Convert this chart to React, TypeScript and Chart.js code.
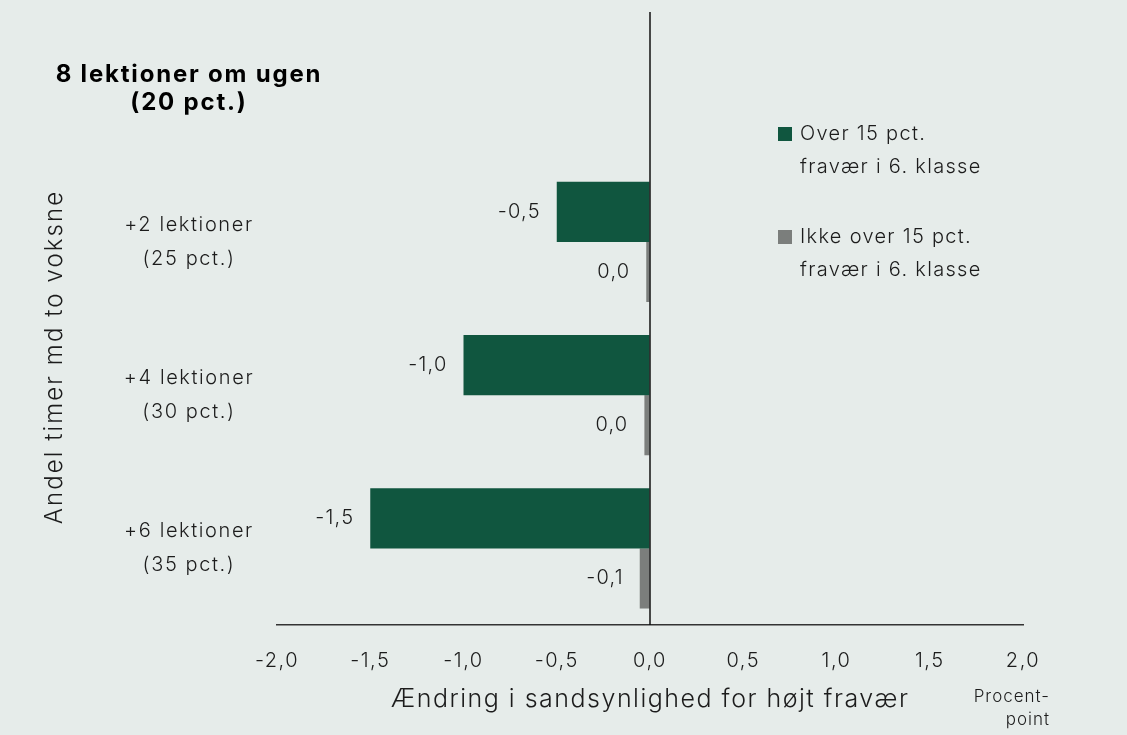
import React, { useEffect, useRef } from "react";
import { Chart, registerables } from "chart.js";

Chart.register(...registerables);

// ---- Data ----
const categories: string[][] = [
  ["8 lektioner om ugen", "(20 pct.)"],
  ["+2 lektioner", "(25 pct.)"],
  ["+4 lektioner", "(30 pct.)"],
  ["+6 lektioner", "(35 pct.)"],
];
const seriesNames: string[][] = [
  ["Over 15 pct.", "fravær i 6. klasse"],
  ["Ikke over 15 pct.", "fravær i 6. klasse"],
];
const over15: (number | null)[] = [null, -0.5, -1.0, -1.5];
const notOver15: (number | null)[] = [null, -0.02, -0.03, -0.055];
const xMin = -2;
const xMax = 2;
const xStep = 0.5;
const xTitle = "Ændring i sandsynlighed for højt fravær";
const yTitle = "Andel timer md to voksne";
const unitLabel: string[] = ["Procent-", "point"];

const colors = ["#10563f", "#7b7e7c"];
const BG = "#e6ecea";
const TEXT = "#1c1c1c";
const FONT = "Inter, Lato, sans-serif";

const fmt = (v: number) => {
  const r = Math.round(v * 10) / 10;
  const s = (r === 0 ? 0 : r).toFixed(1);
  return s.replace(".", ",");
};

const decorPlugin = {
  id: "decor",
  afterDatasetsDraw(chart: any) {
    const { ctx, chartArea } = chart;
    const xs = chart.scales.x;
    const x0 = xs.getPixelForValue(0);
    ctx.save();
    ctx.strokeStyle = "#111";
    ctx.lineWidth = 1.5;
    ctx.beginPath();
    ctx.moveTo(x0, chartArea.top);
    ctx.lineTo(x0, chartArea.bottom);
    ctx.stroke();

    ctx.letterSpacing = "1.2px";
    ctx.font = `300 20px ${FONT}`;
    ctx.fillStyle = TEXT;
    ctx.textAlign = "right";
    ctx.textBaseline = "middle";
    chart.data.datasets.forEach((ds: any, di: number) => {
      const meta = chart.getDatasetMeta(di);
      meta.data.forEach((el: any, i: number) => {
        const v = ds.data[i];
        if (v === null || v === undefined) return;
        const left = Math.min(el.x, el.base);
        ctx.fillText(fmt(v), left - 16, el.y);
      });
    });
    ctx.restore();
  },
  afterDraw(chart: any) {
    const { ctx } = chart;
    const ys = chart.scales.y;
    ctx.save();
    ctx.fillStyle = TEXT;
    ctx.textAlign = "center";
    ctx.textBaseline = "middle";
    categories.forEach((lines, i) => {
      const cy = ys.getPixelForValue(i);
      const bold = i === 0;
      ctx.font = bold ? `bold 24px ${FONT}` : `300 20px ${FONT}`;
      ctx.letterSpacing = bold ? "1.8px" : "1.6px";
      ctx.fillStyle = bold ? "#000" : TEXT;
      const lh = bold ? 28 : 34;
      lines.forEach((t, k) => {
        ctx.fillText(t, 189, cy + (k - (lines.length - 1) / 2) * lh);
      });
    });
    ctx.fillStyle = TEXT;
    ctx.save();
    ctx.translate(55, 357);
    ctx.rotate(-Math.PI / 2);
    ctx.font = `300 24px ${FONT}`;
    ctx.letterSpacing = "2.1px";
    ctx.fillText(yTitle, 0, 0);
    ctx.restore();
    ctx.font = `300 17px ${FONT}`;
    ctx.letterSpacing = "1px";
    ctx.textAlign = "right";
    unitLabel.forEach((t, k) => ctx.fillText(t, 1050, 697 + k * 23));
    ctx.textAlign = "left";
    ctx.font = `300 20px ${FONT}`;
    ctx.letterSpacing = "1.3px";
    seriesNames.forEach((lines, k) => {
      const top = 134 + k * 103;
      ctx.fillStyle = colors[k];
      ctx.fillRect(778, top - 7, 14, 14);
      ctx.fillStyle = TEXT;
      lines.forEach((t, j) => ctx.fillText(t, 800, top + j * 33));
    });
    ctx.restore();
    ctx.letterSpacing = "0px";
  },
};

const spacingPlugin = {
  id: "spacing",
  beforeDraw(chart: any) {
    (chart.ctx as any).letterSpacing = "1.5px";
  },
};

export default function App() {
  const ref = useRef<HTMLCanvasElement | null>(null);
  useEffect(() => {
    if (!ref.current) return;
    const chart = new Chart(ref.current, {
      type: "bar",
      data: {
        labels: categories.map((c) => c.join(" ")),
        datasets: [
          {
            label: seriesNames[0].join(" "),
            data: over15,
            backgroundColor: colors[0],
            categoryPercentage: 0.785,
            barPercentage: 1.0,
          },
          {
            label: seriesNames[1].join(" "),
            data: notOver15,
            backgroundColor: colors[1],
            categoryPercentage: 0.785,
            barPercentage: 1.0,
          },
        ],
      } as any,
      options: {
        indexAxis: "y",
        animation: false,
        responsive: false,
        maintainAspectRatio: false,
        layout: { padding: { left: 277, right: 104, top: 12, bottom: 0 } },
        plugins: {
          legend: { display: false },
          tooltip: { enabled: false },
        },
        scales: {
          x: {
            type: "linear",
            min: xMin,
            max: xMax,
            ticks: {
              stepSize: xStep,
              padding: 24,
              color: TEXT,
              font: { family: FONT, size: 20, weight: "300" },
              callback: (v: any) => fmt(Number(v)),
            },
            grid: { display: true, color: "rgba(0,0,0,0)", drawTicks: false },
            border: { display: true, color: "#333", width: 1.5 },
            title: {
              display: true,
              text: xTitle,
              color: TEXT,
              font: { family: FONT, size: 25, weight: "300" },
              padding: { top: 0, bottom: 21 },
            },
            afterFit: (scale: any) => {
              scale.height = 110;
            },
          },
          y: {
            type: "category",
            display: false,
          },
        },
      } as any,
      plugins: [spacingPlugin, decorPlugin],
    });
    return () => chart.destroy();
  }, []);
  return (
    <div
      style={{
        position: "absolute",
        left: 0,
        top: 0,
        width: 1127,
        height: 735,
        background: BG,
      }}
    >
      <canvas ref={ref} width={1127} height={735} style={{ display: "block" }} />
    </div>
  );
}
